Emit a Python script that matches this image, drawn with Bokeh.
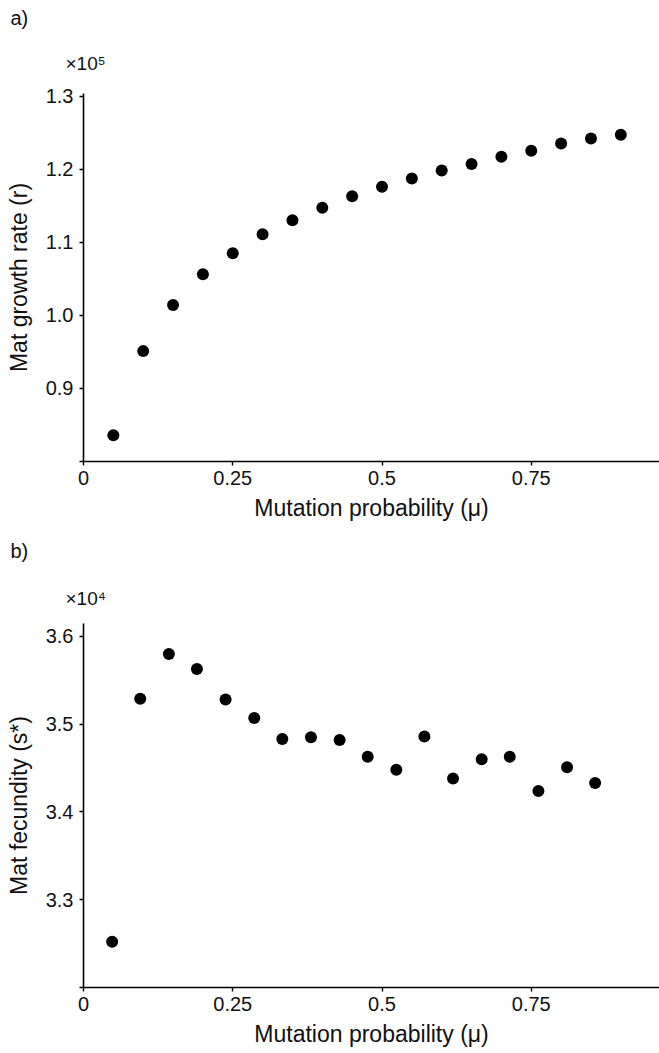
from bokeh.plotting import figure
from bokeh.layouts import column
from bokeh.models import FixedTicker, Range1d, Title
from bokeh.embed import file_html
from bokeh.resources import INLINE

# ---------------- data ----------------
mu_a = [0.05, 0.10, 0.15, 0.20, 0.25, 0.30, 0.35, 0.40, 0.45,
        0.50, 0.55, 0.60, 0.65, 0.70, 0.75, 0.80, 0.85, 0.90]
r_a = [0.836, 0.951, 1.014, 1.056, 1.085, 1.111, 1.130, 1.147, 1.163,
       1.176, 1.187, 1.198, 1.207, 1.217, 1.225, 1.235, 1.242, 1.247]

mu_b = [0.048, 0.095, 0.143, 0.190, 0.238, 0.286, 0.333, 0.381, 0.429,
        0.476, 0.524, 0.571, 0.619, 0.667, 0.714, 0.762, 0.810, 0.857]
s_b = [3.252, 3.529, 3.580, 3.563, 3.528, 3.507, 3.483, 3.485, 3.482,
       3.463, 3.448, 3.486, 3.438, 3.460, 3.463, 3.424, 3.451, 3.433]

x_ticks = [0, 0.25, 0.5, 0.75]
x_tick_labels = ["0", "0.25", "0.5", "0.75"]
ya_ticks = [0.8, 0.9, 1.0, 1.1, 1.2, 1.3]
ya_tick_labels = ["", "0.9", "1.0", "1.1", "1.2", "1.3"]
yb_ticks = [3.2, 3.3, 3.4, 3.5, 3.6]
yb_tick_labels = ["", "3.3", "3.4", "3.5", "3.6"]

x_title = "Mutation probability (\u03bc)"
ya_title = "Mat growth rate (r)"
yb_title = "Mat fecundity (s*)"
ya_exp = "\u00d710\u2075"
yb_exp = "\u00d710\u2074"

# ---------------- layout ----------------
FONT = "Liberation Sans"
W = 659
LEFT = 83
PPX = 597.0
TEXT = "#111111"


def panel(H, top, fh, ylo, ppy, xs, ys, yt, ytl, letter, exp, ytitle,
          letter_standoff, exp_standoff):
    bottom = H - top - fh
    xhi = (W - LEFT) / PPX
    yhi = ylo + fh / ppy
    p = figure(width=W, height=H, output_backend="svg", toolbar_location=None,
               x_range=Range1d(0, xhi), y_range=Range1d(ylo, yhi),
               min_border_left=LEFT, min_border_right=0,
               min_border_top=top, min_border_bottom=bottom)
    p.outline_line_color = None
    p.xgrid.visible = False
    p.ygrid.visible = False
    p.background_fill_color = "white"
    p.border_fill_color = "white"

    for ax in (p.xaxis[0], p.yaxis[0]):
        ax.axis_line_color = "black"
        ax.axis_line_width = 1.6
        ax.major_tick_line_color = "black"
        ax.major_tick_line_width = 1.4
        ax.major_tick_out = 4
        ax.major_tick_in = 0
        ax.minor_tick_line_color = None
        ax.major_label_text_font = FONT
        ax.major_label_text_font_size = "20px"
        ax.major_label_text_color = TEXT
        ax.axis_label_text_font = FONT
        ax.axis_label_text_font_size = "23px"
        ax.axis_label_text_font_style = "normal"
        ax.axis_label_text_color = TEXT
    p.xaxis.ticker = FixedTicker(ticks=x_ticks)
    p.xaxis.major_label_overrides = {t: l for t, l in zip(x_ticks, x_tick_labels)}
    p.xaxis.major_label_standoff = 5
    p.xaxis.axis_label = x_title
    p.xaxis.axis_label_standoff = 7
    p.yaxis.ticker = FixedTicker(ticks=yt)
    p.yaxis.major_label_overrides = {t: l for t, l in zip(yt, ytl)}
    p.yaxis.major_label_standoff = 6
    p.yaxis.axis_label = ytitle
    p.yaxis.axis_label_standoff = 11

    p.scatter(xs, ys, size=12, fill_color="black", line_color=None)

    # panel letter (outermost) and exponent marker (next to the frame)
    p.title.text = letter
    p.title.align = "left"
    p.title.offset = 10 - LEFT
    p.title.standoff = letter_standoff
    p.title.text_font = FONT
    p.title.text_font_size = "20px"
    p.title.text_font_style = "normal"
    p.title.text_color = TEXT
    p.add_layout(Title(text=exp, align="left", offset=65 - LEFT,
                       standoff=exp_standoff, text_font=FONT,
                       text_font_size="19px", text_font_style="normal",
                       text_color=TEXT), "above")
    return p


pa = panel(526, 93, 368, 0.8, 731.0, mu_a, r_a, ya_ticks, ya_tick_labels,
           "a)", ya_exp, ya_title, 6.7, 38.2)
pb = panel(527, 97, 364, 3.2, 877.7, mu_b, s_b, yb_ticks, yb_tick_labels,
           "b)", yb_exp, yb_title, 19.7, 29.2)

layout = column(pa, pb, spacing=0)
open("out.html", "w").write(file_html(layout, INLINE))
